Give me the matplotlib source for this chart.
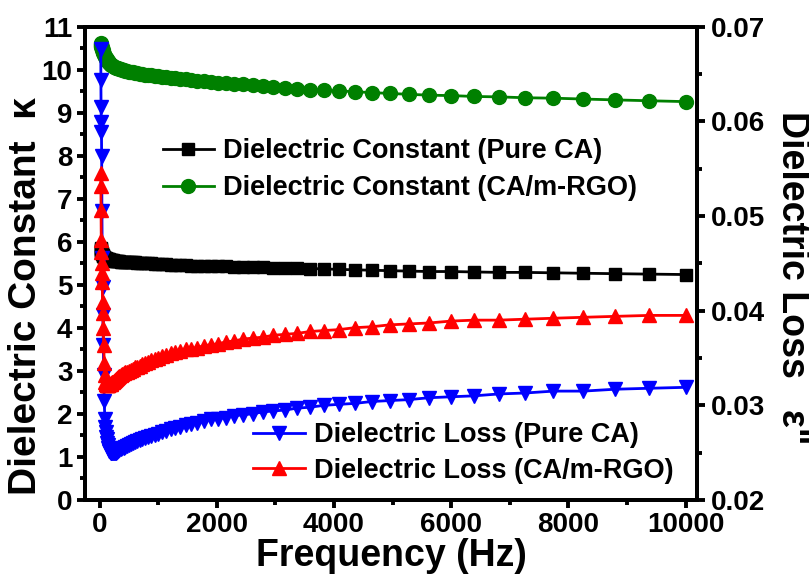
import matplotlib
matplotlib.use('Agg')
import matplotlib.pyplot as plt
from matplotlib.ticker import MultipleLocator

plt.rcParams['font.family'] = ['Liberation Sans', 'DejaVu Sans']
plt.rcParams['font.weight'] = 'bold'
plt.rcParams['axes.labelweight'] = 'bold'

# frequency (Hz), log sweep
freq = [20, 22, 25, 28, 32, 35, 40, 45, 50, 56, 63, 71, 79, 89,
        100, 107, 114, 121, 129, 138, 147, 156, 167, 178, 190, 202, 215, 230,
        245, 261, 278, 297, 316, 337, 359, 383, 408, 435, 464, 495, 528, 562,
        599, 639, 681, 726, 774, 825, 880, 938, 1000, 1066, 1137, 1212, 1292,
        1377, 1468, 1565, 1668, 1778, 1896, 2021, 2154, 2297, 2448, 2610, 2783,
        2966, 3162, 3371, 3594, 3831, 4084, 4354, 4642, 4948, 5275, 5623, 5995,
        6391, 6813, 7263, 7743, 8254, 8799, 9380, 10000]

# dielectric constant, pure CA (left axis)
k_pure = [5.85, 5.83, 5.81, 5.79, 5.77, 5.75, 5.73, 5.71, 5.69, 5.68, 5.66, 5.65, 5.64, 5.63,
          5.62, 5.62, 5.61, 5.61, 5.60, 5.60, 5.59, 5.59, 5.58, 5.58, 5.58, 5.57, 5.57, 5.57,
          5.56, 5.56, 5.56, 5.55, 5.55, 5.55, 5.54, 5.54, 5.54, 5.53, 5.53, 5.53, 5.52, 5.52,
          5.52, 5.51, 5.51, 5.51, 5.50, 5.50, 5.50, 5.49, 5.49, 5.48, 5.48, 5.47, 5.47,
          5.46, 5.46, 5.45, 5.45, 5.44, 5.44, 5.43, 5.43, 5.42, 5.42, 5.41, 5.41,
          5.40, 5.40, 5.39, 5.38, 5.37, 5.36, 5.35, 5.34, 5.33, 5.32, 5.31, 5.31,
          5.30, 5.29, 5.29, 5.28, 5.27, 5.26, 5.25, 5.24]

# dielectric constant, CA/m-RGO (left axis)
k_rgo = [10.62, 10.60, 10.58, 10.56, 10.54, 10.52, 10.50, 10.47, 10.45, 10.42, 10.40, 10.37, 10.35, 10.32,
         10.30, 10.28, 10.26, 10.24, 10.22, 10.20, 10.18, 10.17, 10.15, 10.14, 10.12, 10.11, 10.10, 10.08,
         10.07, 10.06, 10.05, 10.04, 10.03, 10.02, 10.01, 10.00, 9.99, 9.98, 9.97, 9.96, 9.95, 9.94,
         9.93, 9.92, 9.91, 9.90, 9.89, 9.88, 9.87, 9.86, 9.85, 9.84, 9.83, 9.82, 9.80,
         9.79, 9.78, 9.76, 9.75, 9.73, 9.72, 9.70, 9.69, 9.67, 9.66, 9.64, 9.63,
         9.59, 9.57, 9.55, 9.54, 9.52, 9.51, 9.49, 9.47, 9.45, 9.43, 9.41, 9.40,
         9.38, 9.37, 9.35, 9.34, 9.32, 9.30, 9.28, 9.26]

# dielectric loss, pure CA (right axis)
loss_pure = [0.0677, 0.0644, 0.0615, 0.0599, 0.0589, 0.0563, 0.0505, 0.0456, 0.0425, 0.0395, 0.0364, 0.0332, 0.0305, 0.0286,
             0.0277, 0.0272, 0.0267, 0.0264, 0.0260, 0.0258, 0.0255, 0.0254, 0.0252, 0.0251, 0.0250, 0.0250, 0.0250, 0.0250,
             0.0250, 0.0250, 0.0250, 0.0251, 0.0252, 0.0253, 0.0254, 0.0255, 0.0255, 0.0256, 0.0257, 0.0258, 0.0259, 0.0260,
             0.0261, 0.0262, 0.0263, 0.0264, 0.0265, 0.0266, 0.0268, 0.0269, 0.0270, 0.0272, 0.0273, 0.0275, 0.0276,
             0.0277, 0.0279, 0.0280, 0.0281, 0.0283, 0.0285, 0.0286, 0.0287, 0.0289, 0.0290, 0.0291, 0.0293,
             0.0294, 0.0295, 0.0297, 0.0298, 0.0300, 0.0301, 0.0302, 0.0304, 0.0305, 0.0306, 0.0308, 0.0309,
             0.0310, 0.0312, 0.0313, 0.0315, 0.0315, 0.0317, 0.0318, 0.0319]

# dielectric loss, CA/m-RGO (right axis)
loss_rgo = [0.0545, 0.0532, 0.0506, 0.0475, 0.0462, 0.0450, 0.0440, 0.0430, 0.0409, 0.0398, 0.0382, 0.0364, 0.0345, 0.0332,
            0.0325, 0.0323, 0.0322, 0.0321, 0.0321, 0.0321, 0.0321, 0.0322, 0.0322, 0.0323, 0.0323, 0.0324, 0.0325, 0.0325,
            0.0326, 0.0327, 0.0328, 0.0329, 0.0330, 0.0331, 0.0332, 0.0333, 0.0334, 0.0335, 0.0335, 0.0336, 0.0337, 0.0338,
            0.0340, 0.0341, 0.0342, 0.0344, 0.0345, 0.0346, 0.0348, 0.0349, 0.0350, 0.0352, 0.0353, 0.0355, 0.0356,
            0.0357, 0.0359, 0.0360, 0.0361, 0.0363, 0.0364, 0.0365, 0.0367, 0.0368, 0.0370, 0.0371, 0.0372,
            0.0374, 0.0375, 0.0376, 0.0378, 0.0379, 0.0380, 0.0382, 0.0383, 0.0385, 0.0386, 0.0387, 0.0389,
            0.0390, 0.0390, 0.0391, 0.0392, 0.0393, 0.0394, 0.0395, 0.0395]

fig = plt.figure(figsize=(8.09, 5.82), dpi=100)
ax = fig.add_axes([0.105, 0.141, 0.757, 0.813])
ax2 = ax.twinx()

lw = 2.0
l1, = ax.plot(freq, k_pure, '-s', color='black', lw=lw, ms=8)
l2, = ax.plot(freq, k_rgo, '-o', color='#008000', lw=lw, ms=10)
l3, = ax2.plot(freq, loss_pure, '-v', color='#0000FF', lw=lw, ms=10.5)
l4, = ax2.plot(freq, loss_rgo, '-^', color='#FF0000', lw=lw, ms=10.5)

ax.set_xlim(-250, 10200)
ax.set_ylim(0, 11)
ax2.set_ylim(0.02, 0.07)

ax.xaxis.set_major_locator(MultipleLocator(2000))
ax.xaxis.set_minor_locator(MultipleLocator(1000))
ax.yaxis.set_major_locator(MultipleLocator(1))
ax.yaxis.set_minor_locator(MultipleLocator(0.5))
ax2.yaxis.set_major_locator(MultipleLocator(0.01))
ax2.yaxis.set_minor_locator(MultipleLocator(0.005))
ax2.yaxis.set_major_formatter(plt.FormatStrFormatter('%.2f'))

for a in (ax, ax2):
    for s in a.spines.values():
        s.set_linewidth(2.8)
ax.tick_params(which='both', direction='out', top=False, right=False, width=2.8, labelsize=20)
ax.tick_params(which='major', length=6, pad=3)
ax.tick_params(which='minor', length=3.5)
ax2.tick_params(which='both', direction='out', width=2.8, labelsize=20)
ax2.tick_params(which='major', length=6, pad=4)
ax2.tick_params(which='minor', length=3.5)

ax.set_xlabel('Frequency (Hz)', fontsize=27, labelpad=0)
ax.set_ylabel('Dielectric Constant  \u03ba', fontsize=28)
ax.yaxis.set_label_coords(-0.067, 0.43)
ax2.set_ylabel('Dielectric Loss   \u03b5"', fontsize=27, rotation=270, va='bottom')
ax2.yaxis.set_label_coords(1.125, 0.47)

ax.legend([l1, l2], ['Dielectric Constant (Pure CA)', 'Dielectric Constant (CA/m-RGO)'],
          loc='center left', bbox_to_anchor=(0.127, 0.698), frameon=False, fontsize=19.5,
          borderpad=0, borderaxespad=0, handlelength=1.9, handletextpad=0.34, labelspacing=0.4)
ax2.legend([l3, l4], ['Dielectric Loss (Pure CA)', 'Dielectric Loss (CA/m-RGO)'],
           loc='center left', bbox_to_anchor=(0.2745, 0.099), frameon=False, fontsize=19.5,
           borderpad=0, borderaxespad=0, handlelength=1.9, handletextpad=0.34, labelspacing=0.35)

plt.savefig('out.png', dpi=100)
